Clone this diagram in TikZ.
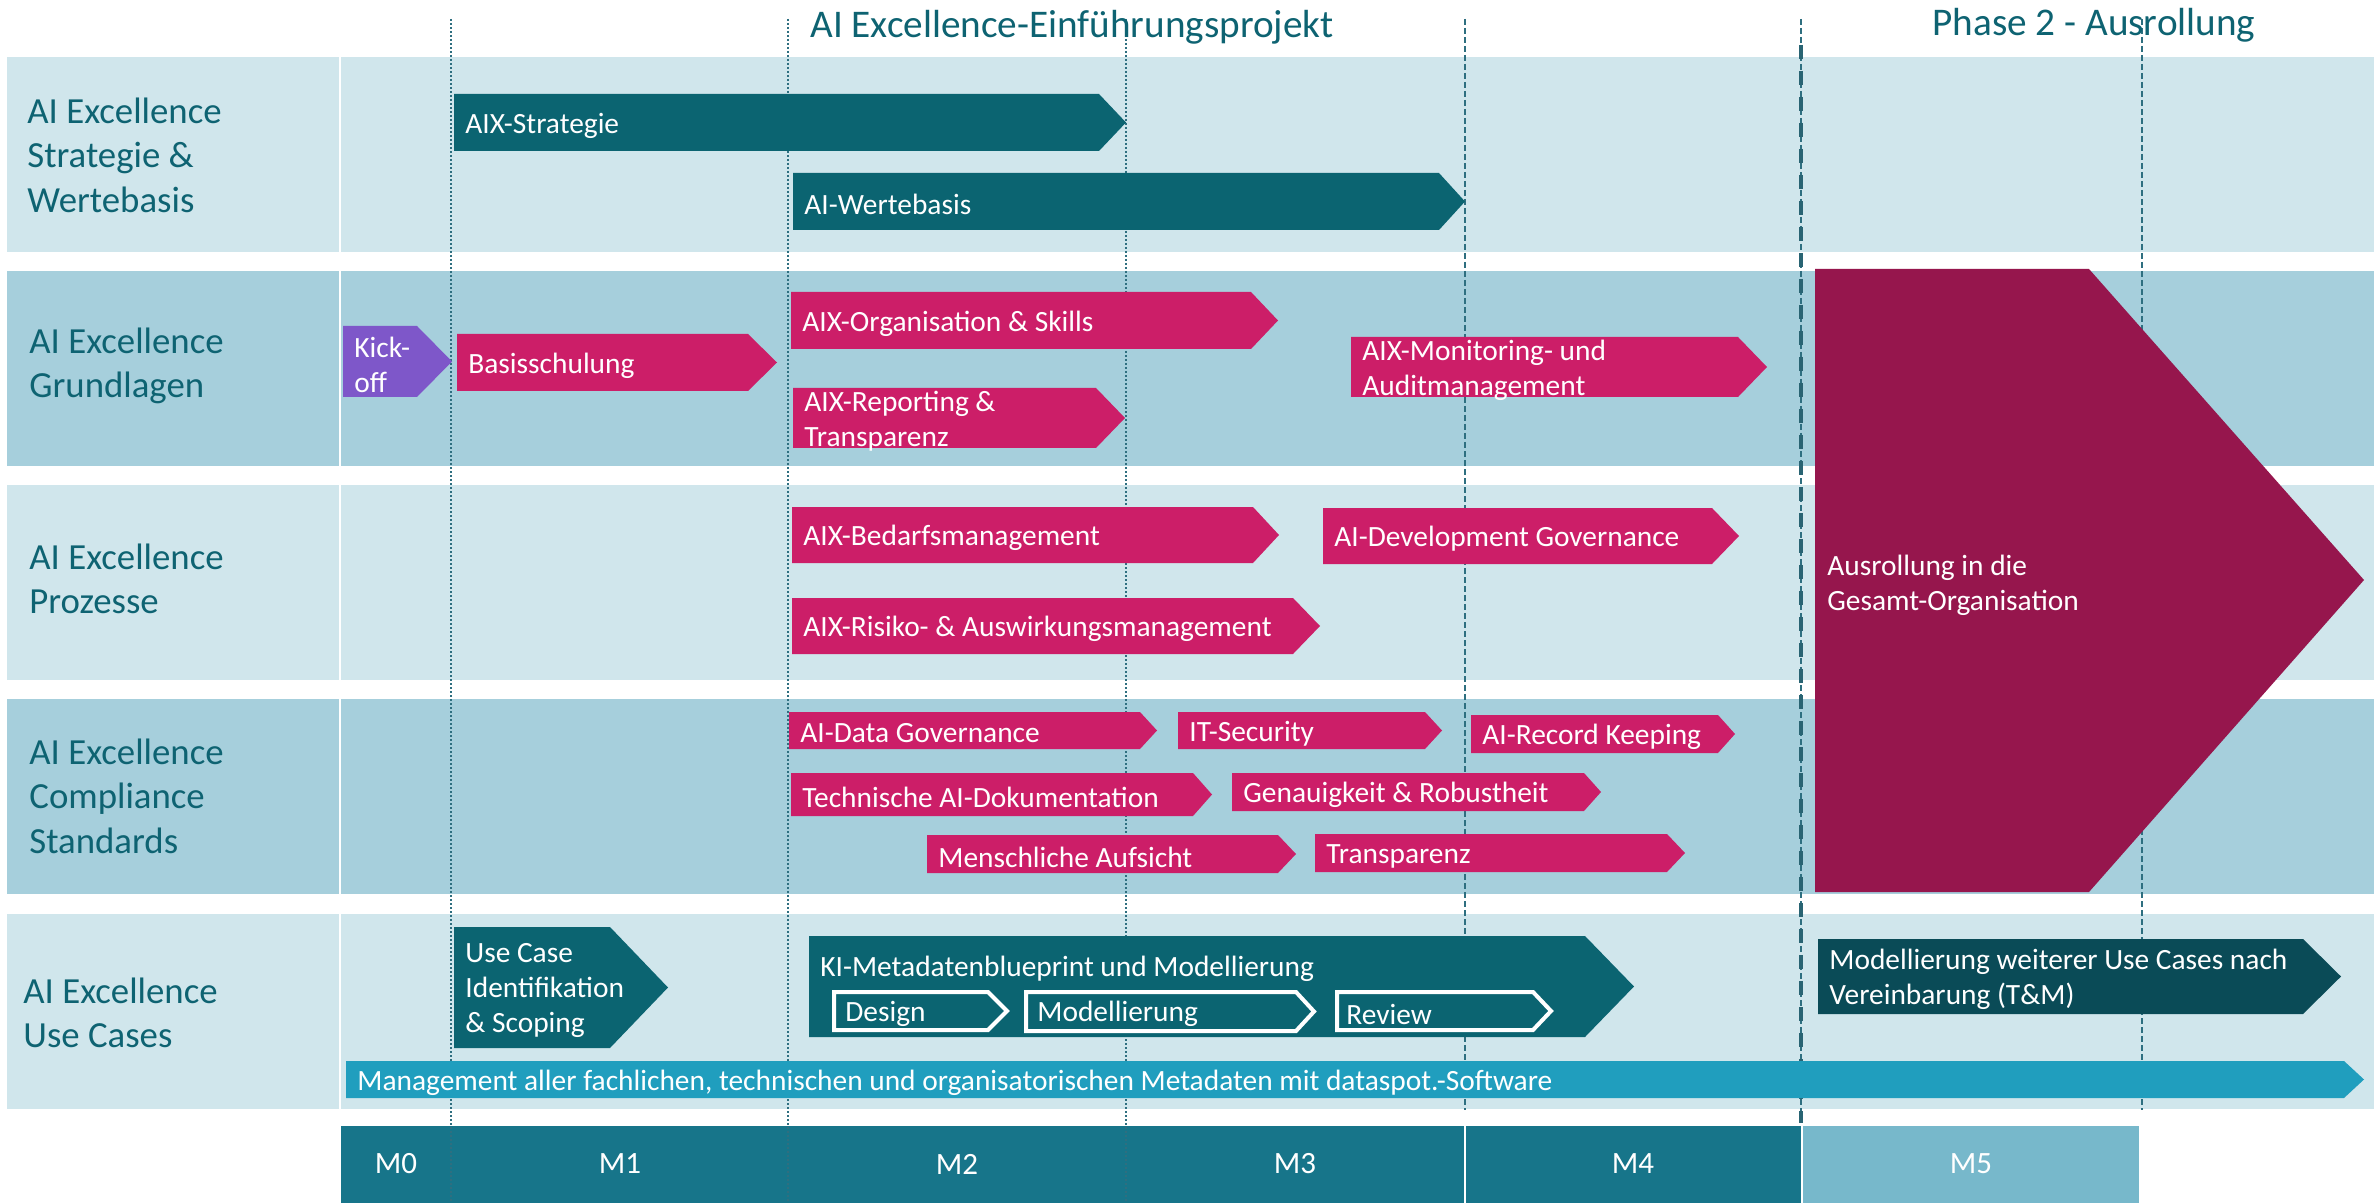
\documentclass[tikz,border=0pt]{standalone}
\usepackage{fontspec}
\setmainfont{Carlito}
\definecolor{tealbar}{HTML}{0B6471}
\definecolor{magbar}{HTML}{CC1E68}
\definecolor{bigarrow}{HTML}{96164D}
\definecolor{kickpurple}{HTML}{7E57C9}
\definecolor{labelteal}{HTML}{0E6372}
\definecolor{bandL}{HTML}{D0E6EC}
\definecolor{bandD}{HTML}{A6CFDC}
\definecolor{mgmtblue}{HTML}{209EBE}
\definecolor{monthD}{HTML}{17758A}
\definecolor{monthL}{HTML}{77B8CB}
\definecolor{darkteal}{HTML}{0A4B57}
\definecolor{vlinec}{HTML}{2E6F80}
\newcommand\chev[8]{%
  \fill[#7] (#2,#3) -- (#4,#3) -- (#5,{(#3+#6)/2}) -- (#4,#6) -- (#2,#6) -- cycle;
  \node[bartext] (#1) at ({#2+11},{(#3+#6)/2}) {#8};
}
\newcommand\subchev[6]{% name, x1, y1, xb, xt, y2 (outer edges)
  \draw[white, line width=2pt] ({#2+2},{#3+2}) -- ({#4},{#3+2}) -- ({#5-2},{(#3+#6)/2}) -- ({#4},{#6-2}) -- ({#2+2},{#6-2}) -- cycle;
}
\begin{document}
\begin{tikzpicture}[x=0.5pt,y=-0.5pt,
  bartext/.style={anchor=west, inner sep=0pt, text=white, align=left, yshift=-1.5pt,
    font=\fontsize{14.7}{17.5}\selectfont},
  rowlabel/.style={anchor=west, inner sep=0pt, text=labelteal, align=left,
    font=\fontsize{18.4}{22.2}\selectfont},
  titletext/.style={anchor=base west, inner sep=0pt, text=labelteal,
    font=\fontsize{19.6}{23}\selectfont},
  monthtext/.style={inner sep=0pt, text=white, font=\fontsize{15.5}{18}\selectfont},
  dotline/.style={vlinec, line width=1pt, dash pattern=on 1pt off 1pt},
  thinDash/.style={vlinec, line width=0.6pt, dash pattern=on 3pt off 1.5pt},
  thickDash/.style={vlinec!90!black, line width=2pt, dash pattern=on 7pt off 6pt}]
\useasboundingbox (0,0) rectangle (2377,1203);
\fill[white] (0,0) rectangle (2377,1203);
% bands
\fill[bandL] (7,57) rectangle (2374,252);
\fill[bandD] (7,271) rectangle (2374,466);
\fill[bandL] (7,485) rectangle (2374,680);
\fill[bandD] (7,699) rectangle (2374,894);
\fill[bandL] (7,914) rectangle (2374,1109);
\fill[white] (339,57) rectangle (341,1109);
% month bar
\fill[monthD] (341,1126) rectangle (1801,1203);
\fill[monthL] (1803,1126) rectangle (2139,1203);
\fill[white] (1464,1126) rectangle (1466,1203);
% vertical grid lines
\draw[dotline] (451,19) -- (451,1203);
\draw[dotline] (788,19) -- (788,1203);
\draw[dotline] (1126,19) -- (1126,1203);
\draw[thinDash] (1465,19) -- (1465,1110);
\draw[thinDash] (2142,19) -- (2142,1110);
\draw[thinDash] (1801,19) -- (1801,1123);
\draw[thickDash] (1801,45) -- (1801,1123);
% titles
\node[titletext] (title1) at (810,38) {AI Excellence-Einführungsprojekt};
\node[titletext] (title2) at (1932,36) {Phase 2 - Ausrollung};
% row labels
\node[rowlabel] (row1) at (27,155) {AI Excellence\\Strategie \&\\Wertebasis};
\node[rowlabel] (row2) at (29,366) {AI Excellence\\Grundlagen};
\node[rowlabel] (row3) at (29,579) {AI Excellence\\Prozesse};
\node[rowlabel] (row4) at (29,796) {AI Excellence\\Compliance\\Standards};
\node[rowlabel] (row5) at (23,1013) {AI Excellence\\Use Cases};
% big arrow
\fill[bigarrow] (1815,269) -- (2089,269) -- (2364,580) -- (2089,892) -- (1815,892) -- cycle;
\node[bartext] (rollout) at (1827,582) {Ausrollung in die\\Gesamt-Organisation};
% bars
\chev{strat}{454}{94}{1099}{1126}{151}{tealbar}{AIX-Strategie}
\chev{werte}{793}{173}{1439}{1465}{230}{tealbar}{AI-Wertebasis}
\chev{kick}{343}{326}{417}{452}{397}{kickpurple}{Kick-\\off}
\chev{basis}{457}{334}{748}{777}{391}{magbar}{Basisschulung}
\chev{orga}{791}{292}{1251}{1278}{349}{magbar}{AIX-Organisation \& Skills}
\chev{report}{793}{388}{1096}{1125}{448}{magbar}{AIX-Reporting \&\\Transparenz}
\chev{monit}{1351}{337}{1738}{1767}{397}{magbar}{AIX-Monitoring- und\\Auditmanagement}
\chev{bedarf}{792}{507}{1253}{1279}{563}{magbar}{AIX-Bedarfsmanagement}
\chev{risiko}{792}{598}{1293}{1320}{654}{magbar}{AIX-Risiko- \& Auswirkungsmanagement}
\chev{devgov}{1323}{508}{1712}{1739}{564}{magbar}{AI-Development Governance}
\chev{datagov}{789}{712}{1140}{1157}{749}{magbar}{AI-Data Governance}
\chev{itsec}{1178}{712}{1425}{1442}{749}{magbar}{IT-Security}
\chev{record}{1471}{715}{1718}{1735}{753}{magbar}{AI-Record Keeping}
\chev{techdoc}{791}{773}{1193}{1212}{816}{magbar}{Technische AI-Dokumentation}
\chev{genau}{1232}{773}{1584}{1601}{811}{magbar}{Genauigkeit \& Robustheit}
\chev{mensch}{927}{835}{1278}{1296}{873}{magbar}{Menschliche Aufsicht}
\chev{transp}{1315}{834}{1667}{1685}{872}{magbar}{Transparenz}
\chev{usecase}{454}{927}{610}{668}{1048}{tealbar}{Use Case\\Identifikation\\\& Scoping}
\chev{weiter}{1818}{939}{2303}{2341}{1014}{darkteal}{Modellierung weiterer Use Cases nach\\Vereinbarung (T\&M)}
\chev{mgmt}{346}{1061}{2344}{2364}{1098}{mgmtblue}{Management aller fachlichen, technischen und organisatorischen Metadaten mit dataspot.-Software}
% KI-Metadatenblueprint
\fill[tealbar] (809,936) -- (1585,936) -- (1634,986.5) -- (1585,1037) -- (809,1037) -- cycle;
\node[bartext, anchor=base west, yshift=0pt] (ki) at (820,973) {KI-Metadatenblueprint und Modellierung};
\subchev{design}{832}{990}{988}{1009}{1032}
\subchev{model}{1024}{990}{1296}{1316}{1033}
\subchev{review}{1335}{990}{1533}{1553}{1032}
\node[bartext] (designt) at (845,1011) {Design};
\node[bartext] (modelt) at (1037,1011) {Modellierung};
\node[bartext] (reviewt) at (1346,1011) {Review};
% months
\node[monthtext] (m0) at (396,1164) {M0};
\node[monthtext] (m1) at (620,1164) {M1};
\node[monthtext] (m2) at (957,1164) {M2};
\node[monthtext] (m3) at (1295,1164) {M3};
\node[monthtext] (m4) at (1633,1164) {M4};
\node[monthtext] (m5) at (1971,1164) {M5};
\end{tikzpicture}
\end{document}
